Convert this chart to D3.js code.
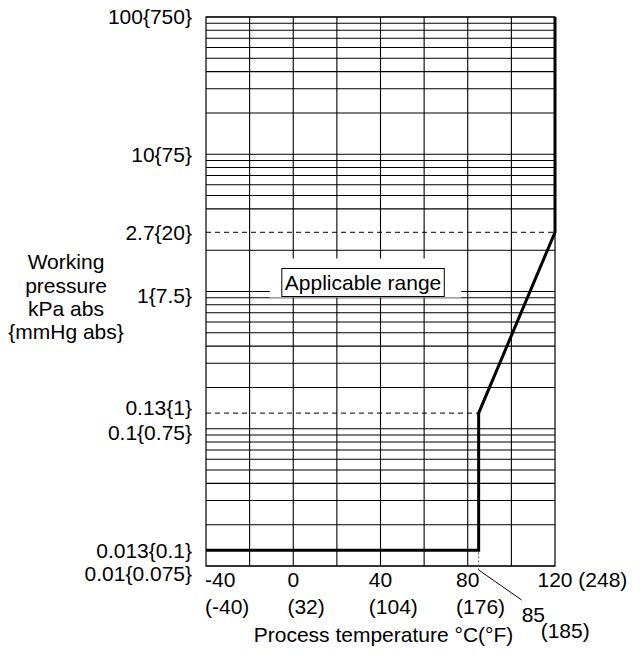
<!DOCTYPE html>
<html>
<head>
<meta charset="utf-8">
<script src="https://cdn.jsdelivr.net/npm/d3@7"></script>
<style>
  body { margin: 0; background: #fff; }
  text { font-family: "Liberation Sans", Arial, Helvetica, sans-serif; fill: #000; }
</style>
</head>
<body>
<svg id="chart" width="640" height="660"></svg>
<script>
// ---------- data ----------
const tempTicksC = [-40, 0, 40, 80, 120];
const tempTicksF = ["(-40)", "(32)", "(104)", "(176)", "(248)"];
const tempGrid = [-20, 0, 20, 40, 60, 80, 100];
const pressureTicks = [100, 10, 2.7, 1, 0.13, 0.1, 0.013, 0.01];
const pressureTickLabels = ["100{750}", "10{75}", "2.7{20}", "1{7.5}", "0.13{1}", "0.1{0.75}", "0.013{0.1}", "0.01{0.075}"];
const gridDecades = [0.01, 0.1, 1, 10];
const gridMultiples = [1, 2, 3, 4, 5, 6, 7, 8, 9];
const gridOmitted = [3];            // 3 kPa line replaced by the dashed 2.7 line
const boundaryTemp = [-40, 85, 85, 120, 120];
const boundaryPressure = [0.013, 0.013, 0.13, 2.7, 100];
const dashedPressure = [2.7, 0.13];
const dashedEndTemp = [120, 85];
const markTempC = "85";
const markTempF = "(185)";
const markTemp = 85;
const rangeLabel = "Applicable range";
const rangeLabelTemp = 32;
const yTitle = ["Working", "pressure", "kPa abs", "{mmHg abs}"];
const xTitle = "Process temperature \u00B0C(\u00B0F)";

// ---------- scales ----------
const svg = d3.select("#chart");
const FS = 21;
const x = d3.scaleLinear().domain([-40, 120]).range([206, 555]);
const y = d3.scaleLog().domain([0.01, 100]).range([566, 17]);
const [x0, x1] = x.range();
const [yb, yt] = y.range();

// ---------- grid ----------
const gridVals = [];
gridDecades.forEach(d => gridMultiples.forEach(m => {
  if (d === 1 && gridOmitted.includes(m)) return;
  gridVals.push(d * m);
}));
gridVals.push(100);

const g = svg.append("g");
g.selectAll("line.h").data(gridVals).join("line")
  .attr("x1", x0).attr("x2", x1)
  .attr("y1", d => y(d)).attr("y2", d => y(d))
  .attr("stroke", "#000").attr("stroke-width", 1.1);
g.selectAll("line.v").data(tempGrid).join("line")
  .attr("x1", d => x(d)).attr("x2", d => x(d))
  .attr("y1", yt).attr("y2", yb)
  .attr("stroke", "#000").attr("stroke-width", 1.1);
g.append("rect").attr("x", x0).attr("y", yt).attr("width", x1 - x0).attr("height", yb - yt)
  .attr("fill", "none").attr("stroke", "#000").attr("stroke-width", 1.2);

// ---------- applicable range label ----------
const lblG = svg.append("g");
const lblText = lblG.append("text")
  .attr("x", x(rangeLabelTemp)).attr("y", y(1) - 9)
  .attr("dy", "0.35em").attr("text-anchor", "middle")
  .attr("font-size", FS).text(rangeLabel);
const bb = lblText.node().getBBox();
const bx = bb.x - 3, bw = bb.width + 6, by = y(1) - 9 - 14, bh = 28;
lblG.insert("rect", "text").attr("x", bx - 12).attr("y", by - 10).attr("width", bw + 29).attr("height", bh + 11)
  .attr("fill", "#fff");
lblG.insert("rect", "text").attr("x", bx).attr("y", by).attr("width", bw).attr("height", bh)
  .attr("fill", "#fff").attr("stroke", "#000").attr("stroke-width", 1);

// ---------- dashed levels ----------
svg.selectAll("line.dash").data(dashedPressure).join("line")
  .attr("x1", x0).attr("x2", (d, i) => x(dashedEndTemp[i]))
  .attr("y1", d => y(d)).attr("y2", d => y(d))
  .attr("stroke", "#000").attr("stroke-width", 1).attr("stroke-dasharray", "5,4");

// ---------- boundary ----------
const pts = boundaryTemp.map((t, i) => [t, boundaryPressure[i]]);
svg.append("path")
  .attr("d", d3.line().x(d => x(d[0])).y(d => y(d[1]))(pts))
  .attr("fill", "none").attr("stroke", "#000").attr("stroke-width", 3)
  .attr("stroke-linejoin", "miter");

// ---------- 85 marker ----------
const xm = x(markTemp);
svg.append("line").attr("x1", xm).attr("x2", xm).attr("y1", y(0.013) + 2).attr("y2", yb + 4)
  .attr("stroke", "#555").attr("stroke-width", 1).attr("stroke-dasharray", "2,2");
svg.append("line").attr("x1", xm).attr("x2", xm + 43).attr("y1", yb + 4).attr("y2", yb + 34)
  .attr("stroke", "#000").attr("stroke-width", 1);
svg.append("text").attr("x", xm + 43).attr("y", yb + 49).attr("dy", "0.35em")
  .attr("font-size", FS).text(markTempC);
svg.append("text").attr("x", xm + 62).attr("y", yb + 65).attr("dy", "0.35em")
  .attr("font-size", FS).text(markTempF);

// ---------- y tick labels ----------
const labelShift = v => v === 0.01 ? 8 : v === 0.13 ? -5 : v === 0.1 ? 4 : v === 1 ? 4 : 0;
svg.selectAll("text.yl").data(pressureTicks).join("text")
  .attr("x", 192)
  .attr("y", d => y(d) + labelShift(d))
  .attr("dy", "0.35em").attr("text-anchor", "end")
  .attr("font-size", FS)
  .text((d, i) => pressureTickLabels[i]);

// ---------- x tick labels ----------
tempTicksC.forEach((t, i) => {
  const last = i === tempTicksC.length - 1;
  const c = svg.append("text").attr("y", 580).attr("dy", "0.35em").attr("font-size", FS).text(String(t));
  const w = c.node().getComputedTextLength();
  const sx = i === 0 ? x(t) - 1 : x(t) - w / 2;
  c.attr("x", sx);
  if (last) {
    c.text(String(t) + " " + tempTicksF[i]);
  } else {
    svg.append("text").attr("x", sx).attr("y", 607).attr("dy", "0.35em")
      .attr("font-size", FS).text(tempTicksF[i]);
  }
});

// ---------- axis titles ----------
svg.append("text").attr("x", x(40) + 3).attr("y", 635).attr("dy", "0.35em")
  .attr("text-anchor", "middle").attr("font-size", FS).text(xTitle);
svg.selectAll("text.yt").data(yTitle).join("text")
  .attr("x", 66).attr("y", (d, i) => 262 + i * 23.3)
  .attr("dy", "0.35em").attr("text-anchor", "middle")
  .attr("font-size", FS).text(d => d);
</script>
</body>
</html>
